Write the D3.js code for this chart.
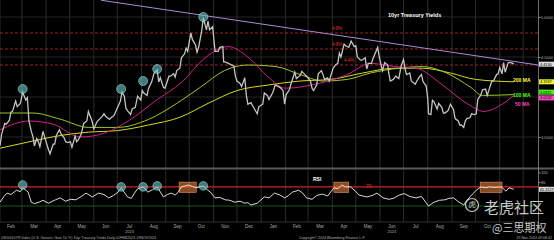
<!DOCTYPE html>
<html lang="en">
<head>
    <meta charset="UTF-8">
    <title>10yr Treasury Yields</title>
    <script src="https://d3js.org/d3.v7.min.js"></script>
    <style>
        body {margin: 0; background: #000;}
        svg {display: block; background: #000;}
        text {font-family: "Liberation Sans", Arial, sans-serif;}
    </style>
</head>
<body>
<script>
    const width = 554;
    const height = 240;

    // USGG10YR daily close
    const prices = [
        ["2023-02-01",3.39],["2023-02-03",3.53],["2023-02-07",3.67],["2023-02-09",3.66],["2023-02-13",3.71],["2023-02-15",3.81],
        ["2023-02-17",3.82],["2023-02-21",3.95],["2023-02-23",3.88],["2023-02-27",3.92],["2023-03-02",4.06],["2023-03-06",3.96],
        ["2023-03-08",3.99],["2023-03-10",3.70],["2023-03-13",3.57],["2023-03-15",3.51],["2023-03-17",3.39],["2023-03-20",3.48],
        ["2023-03-22",3.44],["2023-03-24",3.38],["2023-03-28",3.57],["2023-03-31",3.47],["2023-04-04",3.34],["2023-04-06",3.29],
        ["2023-04-10",3.41],["2023-04-12",3.41],["2023-04-14",3.52],["2023-04-18",3.59],["2023-04-20",3.54],["2023-04-24",3.49],
        ["2023-04-26",3.44],["2023-04-28",3.43],["2023-05-02",3.44],["2023-05-04",3.37],["2023-05-08",3.51],["2023-05-10",3.44],
        ["2023-05-12",3.46],["2023-05-16",3.54],["2023-05-19",3.67],["2023-05-23",3.70],["2023-05-25",3.82],["2023-05-30",3.69],
        ["2023-06-01",3.60],["2023-06-05",3.69],["2023-06-08",3.72],["2023-06-12",3.76],["2023-06-14",3.79],["2023-06-16",3.76],
        ["2023-06-21",3.72],["2023-06-23",3.74],["2023-06-27",3.77],["2023-06-30",3.84],["2023-07-05",3.95],["2023-07-07",4.06],
        ["2023-07-10",4.01],["2023-07-12",3.86],["2023-07-14",3.83],["2023-07-18",3.78],["2023-07-20",3.85],["2023-07-24",3.87],
        ["2023-07-27",4.01],["2023-07-31",3.96],["2023-08-02",4.08],["2023-08-04",4.05],["2023-08-08",4.02],["2023-08-10",4.11],
        ["2023-08-14",4.19],["2023-08-17",4.30],["2023-08-21",4.34],["2023-08-23",4.19],["2023-08-25",4.24],["2023-08-29",4.12],
        ["2023-08-31",4.11],["2023-09-05",4.26],["2023-09-07",4.26],["2023-09-11",4.29],["2023-09-13",4.25],["2023-09-15",4.33],
        ["2023-09-19",4.36],["2023-09-21",4.49],["2023-09-25",4.54],["2023-09-27",4.61],["2023-09-29",4.57],["2023-10-03",4.80],
        ["2023-10-05",4.72],["2023-10-09",4.65],["2023-10-11",4.56],["2023-10-13",4.62],["2023-10-17",4.83],["2023-10-19",4.99],
        ["2023-10-23",4.84],["2023-10-25",4.95],["2023-10-27",4.84],["2023-10-31",4.88],["2023-11-02",4.67],["2023-11-03",4.57],
        ["2023-11-07",4.57],["2023-11-09",4.62],["2023-11-13",4.63],["2023-11-14",4.44],["2023-11-16",4.44],["2023-11-20",4.42],
        ["2023-11-22",4.41],["2023-11-27",4.39],["2023-11-29",4.26],["2023-12-01",4.20],["2023-12-05",4.17],["2023-12-07",4.13],
        ["2023-12-11",4.24],["2023-12-13",4.02],["2023-12-15",3.91],["2023-12-19",3.93],["2023-12-21",3.89],["2023-12-27",3.79],
        ["2023-12-29",3.88],["2024-01-03",3.91],["2024-01-05",4.05],["2024-01-09",4.02],["2024-01-11",3.97],["2024-01-16",4.06],
        ["2024-01-19",4.15],["2024-01-23",4.13],["2024-01-25",4.12],["2024-01-29",4.08],["2024-01-31",3.91],["2024-02-02",4.03],
        ["2024-02-06",4.09],["2024-02-08",4.16],["2024-02-13",4.31],["2024-02-15",4.23],["2024-02-20",4.27],["2024-02-22",4.32],
        ["2024-02-26",4.28],["2024-02-29",4.25],["2024-03-04",4.20],["2024-03-06",4.11],["2024-03-08",4.08],["2024-03-12",4.15],
        ["2024-03-14",4.29],["2024-03-18",4.33],["2024-03-20",4.28],["2024-03-22",4.22],["2024-03-26",4.24],["2024-03-28",4.20],
        ["2024-04-02",4.36],["2024-04-05",4.40],["2024-04-08",4.42],["2024-04-10",4.55],["2024-04-12",4.50],["2024-04-16",4.66],
        ["2024-04-18",4.64],["2024-04-22",4.62],["2024-04-25",4.70],["2024-04-29",4.63],["2024-05-01",4.64],["2024-05-03",4.50],
        ["2024-05-07",4.46],["2024-05-09",4.46],["2024-05-13",4.49],["2024-05-15",4.35],["2024-05-17",4.42],["2024-05-21",4.42],
        ["2024-05-23",4.48],["2024-05-29",4.62],["2024-05-31",4.50],["2024-06-04",4.33],["2024-06-07",4.43],["2024-06-11",4.40],
        ["2024-06-12",4.31],["2024-06-14",4.20],["2024-06-18",4.22],["2024-06-21",4.26],["2024-06-25",4.23],["2024-06-28",4.39],
        ["2024-07-01",4.47],["2024-07-03",4.35],["2024-07-05",4.28],["2024-07-09",4.30],["2024-07-11",4.20],["2024-07-16",4.16],
        ["2024-07-18",4.20],["2024-07-22",4.26],["2024-07-24",4.28],["2024-07-26",4.19],["2024-07-30",4.14],["2024-08-01",3.98],
        ["2024-08-02",3.79],["2024-08-05",3.78],["2024-08-07",3.96],["2024-08-09",3.94],["2024-08-13",3.85],["2024-08-15",3.92],
        ["2024-08-19",3.87],["2024-08-21",3.80],["2024-08-23",3.80],["2024-08-27",3.83],["2024-08-30",3.91],["2024-09-03",3.84],
        ["2024-09-05",3.73],["2024-09-09",3.70],["2024-09-11",3.65],["2024-09-13",3.65],["2024-09-16",3.62],["2024-09-18",3.70],
        ["2024-09-20",3.73],["2024-09-24",3.74],["2024-09-26",3.79],["2024-09-30",3.78],["2024-10-02",3.79],["2024-10-04",3.97],
        ["2024-10-08",4.03],["2024-10-10",4.09],["2024-10-14",4.10],["2024-10-16",4.02],["2024-10-18",4.08],["2024-10-22",4.20],
        ["2024-10-24",4.20],["2024-10-28",4.28],["2024-10-30",4.29],["2024-11-01",4.37],["2024-11-04",4.29],["2024-11-06",4.43],
        ["2024-11-08",4.31],["2024-11-12",4.43],["2024-11-14",4.43],["2024-11-15",4.43],["2024-11-18",4.42],["2024-11-19",4.41]
    ];

    const ma50 = [
        ["2023-02-01",3.59],["2023-03-10",3.70],["2023-04-10",3.66],["2023-05-15",3.50],["2023-06-15",3.55],["2023-07-15",3.70],
        ["2023-08-20",3.96],["2023-09-22",4.19],["2023-10-20",4.48],["2023-11-20",4.63],["2023-12-15",4.50],["2024-01-10",4.25],
        ["2024-02-01",4.11],["2024-03-15",4.17],["2024-04-20",4.28],["2024-05-20",4.42],["2024-06-20",4.38],["2024-07-17",4.36],
        ["2024-08-20",4.15],["2024-09-20",3.92],["2024-10-12",3.82],["2024-10-30",3.88],["2024-11-19",4.02]
    ];
    const ma100 = [
        ["2023-02-01",3.80],["2023-03-15",3.80],["2023-04-20",3.72],["2023-05-25",3.62],["2023-07-01",3.62],["2023-08-10",3.72],
        ["2023-09-15",3.92],["2023-10-15",4.12],["2023-11-15",4.33],["2023-12-15",4.40],["2024-01-20",4.38],["2024-02-20",4.28],
        ["2024-03-20",4.20],["2024-04-20",4.22],["2024-05-20",4.30],["2024-06-25",4.36],["2024-07-25",4.38],["2024-08-25",4.30],
        ["2024-09-25",4.12],["2024-10-10",4.02],["2024-11-19",4.03]
    ];
    const ma200 = [
        ["2023-02-01",3.36],["2023-03-15",3.45],["2023-04-20",3.52],["2023-05-25",3.56],["2023-07-01",3.58],["2023-08-10",3.65],
        ["2023-09-20",3.75],["2023-10-25",3.92],["2023-12-01",4.08],["2024-01-10",4.15],["2024-02-20",4.20],["2024-03-30",4.22],
        ["2024-05-10",4.30],["2024-06-20",4.36],["2024-07-25",4.36],["2024-08-30",4.30],["2024-10-01",4.22],["2024-11-19",4.19]
    ];

    const rsi = [
        ["2023-02-01",38],["2023-02-06",50],["2023-02-10",57],["2023-02-15",54],["2023-02-22",63],["2023-02-27",60],["2023-03-02",68],
        ["2023-03-07",62],["2023-03-09",59],["2023-03-13",38],["2023-03-17",35],["2023-03-23",38],["2023-03-28",42],["2023-04-04",36],
        ["2023-04-13",43],["2023-04-19",47],["2023-04-26",40],["2023-05-02",44],["2023-05-09",43],["2023-05-16",50],["2023-05-22",57],
        ["2023-05-30",49],["2023-06-07",57],["2023-06-14",54],["2023-06-20",47],["2023-06-26",52],["2023-07-02",59],["2023-07-06",68],
        ["2023-07-14",49],["2023-07-19",46],["2023-07-23",57],["2023-07-27",66],["2023-08-03",70],["2023-08-09",59],["2023-08-15",64],
        ["2023-08-21",70],["2023-08-29",49],["2023-09-03",54],["2023-09-08",57],["2023-09-13",53],["2023-09-17",59],["2023-09-21",70],
        ["2023-09-26",72],["2023-09-30",74],["2023-10-05",71],["2023-10-10",68],["2023-10-14",70],["2023-10-19",72],["2023-10-24",64],
        ["2023-10-28",59],["2023-11-03",47],["2023-11-09",48],["2023-11-16",43],["2023-11-22",42],["2023-11-28",38],["2023-12-05",40],
        ["2023-12-11",36],["2023-12-15",37],["2023-12-19",32],["2023-12-27",36],["2024-01-05",49],["2024-01-11",47],["2024-01-18",57],
        ["2024-01-25",53],["2024-01-31",47],["2024-02-05",52],["2024-02-10",59],["2024-02-18",63],["2024-02-23",57],["2024-02-28",47],
        ["2024-03-06",44],["2024-03-12",52],["2024-03-19",55],["2024-03-26",51],["2024-04-03",68],["2024-04-08",66],["2024-04-13",74],
        ["2024-04-18",70],["2024-04-24",70],["2024-04-30",62],["2024-05-05",53],["2024-05-10",51],["2024-05-15",49],["2024-05-22",52],
        ["2024-05-28",57],["2024-06-05",47],["2024-06-12",44],["2024-06-18",46],["2024-06-26",53],["2024-07-02",56],["2024-07-09",50],
        ["2024-07-17",47],["2024-07-24",50],["2024-08-02",30],["2024-08-09",38],["2024-08-16",42],["2024-08-23",43],["2024-08-28",46],
        ["2024-09-03",47],["2024-09-10",38],["2024-09-16",32],["2024-09-20",42],["2024-09-24",49],["2024-10-02",63],["2024-10-08",70],
        ["2024-10-14",68],["2024-10-19",70],["2024-10-26",69],["2024-11-03",70],["2024-11-09",61],["2024-11-13",68],["2024-11-19",65]
    ];

    const levels = [4.8, 4.6, 4.4];
    const levelLabels = ["4.8%", "4.6%", "4.4%"];
    const trend = [["2023-06-10", 5.21], ["2024-12-20", 4.40]];
    const peakDates = ["2023-03-02", "2023-07-06", "2023-08-03", "2023-08-21", "2023-10-19"];
    const peakValues = [4.10, 4.10, 4.20, 4.35, 5.00];
    const peakRsi = [74, 70, 70, 72, 72];
    const obZones = [["2023-09-18", "2023-10-10"], ["2024-04-03", "2024-04-22"], ["2024-10-07", "2024-11-04"]];
    const priceTicks = [3.5, 4.0, 4.5, 5.0];
    const rsiTicks = [80, 100];

    const parse = d3.timeParse("%Y-%m-%d");
    const toPts = arr => arr.map(d => ({date: parse(d[0]), value: d[1]}));

    const plotRight = 538;
    const mainBottom = 167;

    const svg = d3.select("body").append("svg")
            .attr("width", width).attr("height", height);

    const x = d3.scaleTime()
            .domain([parse("2023-02-01"), parse("2024-12-20")])
            .range([0, plotRight]);
    const y = d3.scaleLinear().domain([3.125, 5.2125]).range([mainBottom, 0]);
    const yR = d3.scaleLinear().domain([0, 100]).range([220.4, 172.5]);

    svg.append("clipPath").attr("id", "clipMain")
        .append("rect").attr("x", 0).attr("y", 0).attr("width", plotRight).attr("height", mainBottom);

    // grid
    const months = d3.timeMonth.range(parse("2023-02-01"), parse("2024-12-02"));
    svg.append("g").selectAll("line").data(months).enter().append("line")
            .attr("x1", d => x(d)).attr("x2", d => x(d))
            .attr("y1", 0).attr("y2", 222)
            .style("stroke", "#353535").style("stroke-width", 0.8);

    svg.append("g").selectAll("line").data(priceTicks).enter().append("line")
            .attr("x1", 0).attr("x2", plotRight)
            .attr("y1", d => y(d)).attr("y2", d => y(d))
            .style("stroke", "#2e2e2e").style("stroke-width", 0.8);

    // panel separators
    svg.append("line").attr("x1", 0).attr("x2", width).attr("y1", 168.5).attr("y2", 168.5)
            .style("stroke", "#5a5a5a").style("stroke-width", 2);
    svg.append("line").attr("x1", 0).attr("x2", plotRight).attr("y1", 222).attr("y2", 222)
            .style("stroke", "#3a3a3a").style("stroke-width", 0.8);
    svg.append("line").attr("x1", plotRight + 0.5).attr("x2", plotRight + 0.5).attr("y1", 0).attr("y2", 223)
            .style("stroke", "#8a8a8a").style("stroke-width", 0.8);

    const main = svg.append("g").attr("clip-path", "url(#clipMain)");

    // red levels
    main.selectAll("line.level").data(levels).enter().append("line")
            .attr("class", "level")
            .attr("x1", 0).attr("x2", plotRight)
            .attr("y1", d => y(d)).attr("y2", d => y(d))
            .style("stroke", "#c42a2a").style("stroke-width", 0.8)
            .style("stroke-dasharray", "3,2");
    main.selectAll("text.level").data(levels).enter().append("text")
            .attr("x", (d, i) => i < 2 ? 332 : 344)
            .attr("y", d => y(d) - 3)
            .text((d, i) => levelLabels[i])
            .style("fill", "#e03030").style("font-size", "4.5px");

    const line = d3.line().x(d => x(d.date)).y(d => y(d.value));
    const smooth = d3.line().x(d => x(d.date)).y(d => y(d.value)).curve(d3.curveMonotoneX);

    main.append("path").datum(toPts(ma200)).attr("d", smooth)
            .style("fill", "none").style("stroke", "#d8d820").style("stroke-width", 1);
    main.append("path").datum(toPts(ma100)).attr("d", smooth)
            .style("fill", "none").style("stroke", "#9cc828").style("stroke-width", 1);
    main.append("path").datum(toPts(ma50)).attr("d", smooth)
            .style("fill", "none").style("stroke", "#d0208c").style("stroke-width", 1);

    main.append("path").datum(toPts(prices)).attr("d", line)
            .style("fill", "none").style("stroke", "#c4c4c4").style("stroke-width", 1.3);

    main.append("path").datum(toPts(trend)).attr("d", line)
            .style("fill", "none").style("stroke", "#a88ad8").style("stroke-width", 1);

    main.selectAll("circle").data(peakDates).enter().append("circle")
            .attr("cx", d => x(parse(d))).attr("cy", (d, i) => y(peakValues[i])).attr("r", 4.5)
            .style("fill", "rgba(110,200,200,0.6)").style("stroke", "#8fe3e3").style("stroke-width", 0.6);

    svg.append("text").attr("x", 388).attr("y", 17).text("10yr Treasury Yields")
            .style("fill", "#fff").style("font-size", "5.5px").style("font-weight", "bold");

    // MA legend
    const maLegend = [["200 MA", "#ffff30", 82], ["100 MA", "#4cff1a", 97], ["50 MA", "#ff3fbf", 106]];
    svg.selectAll("text.ma").data(maLegend).enter().append("text")
            .attr("class", "ma")
            .attr("x", d => d[0] === "50 MA" ? 515 : 513).attr("y", d => d[2])
            .text(d => d[0])
            .style("fill", d => d[1]).style("font-size", "5px").style("font-weight", "bold");

    // right axis (4.0000 sits under the MA value boxes)
    const axisR = svg.append("g").attr("transform", `translate(${plotRight + 0.5},0)`)
            .call(d3.axisRight(y).tickValues(priceTicks)
                .tickFormat(d => d === 4.0 ? "" : d3.format(".4f")(d)).tickSize(2));
    axisR.select(".domain").remove();
    axisR.selectAll("line").style("stroke", "#9a9a9a");
    axisR.selectAll("text").style("fill", "#b0b0b0").style("font-size", "4px").attr("x", 2.5);

    const rsiAxis = svg.append("g").attr("transform", `translate(${plotRight + 0.5},0)`)
            .call(d3.axisRight(yR).tickValues(rsiTicks).tickSize(2));
    rsiAxis.select(".domain").remove();
    rsiAxis.selectAll("line").style("stroke", "#9a9a9a");
    rsiAxis.selectAll("text").style("fill", "#b0b0b0").style("font-size", "4px").attr("x", 2.5);

    // last value boxes
    const boxes = [
        {y: y(prices[prices.length - 1][1]), bg: "#dcdcdc", t: "4.4130"},
        {y: y(ma200[ma200.length - 1][1]), bg: "#f2f230", t: "4.1937"},
        {y: y(ma100[ma100.length - 1][1]) - 2.5, bg: "#46f01e", t: "4.0311"},
        {y: y(ma50[ma50.length - 1][1]) + 2.5, bg: "#ff44c4", t: "4.0242"},
        {y: yR(rsi[rsi.length - 1][1]), bg: "#d8d8d8", t: "65.3127"}
    ];
    const bx = svg.selectAll("g.box").data(boxes).enter().append("g")
            .attr("class", "box").attr("transform", d => `translate(${plotRight + 1},${d.y - 2.5})`);
    bx.append("rect").attr("width", 15).attr("height", 5).style("fill", d => d.bg);
    bx.append("text").attr("x", 1).attr("y", 4).text(d => d.t)
            .style("fill", "#000").style("font-size", "3.8px");

    // RSI panel
    svg.append("line").attr("x1", 0).attr("x2", plotRight).attr("y1", yR(70)).attr("y2", yR(70))
            .style("stroke", "#d42020").style("stroke-width", 1.2);
    svg.append("line").attr("x1", 0).attr("x2", plotRight).attr("y1", yR(30)).attr("y2", yR(30))
            .style("stroke", "#1f6a1f").style("stroke-width", 0.8);

    svg.selectAll("rect.ob").data(obZones).enter().append("rect")
            .attr("class", "ob")
            .attr("x", d => x(parse(d[0]))).attr("width", d => x(parse(d[1])) - x(parse(d[0])))
            .attr("y", yR(80)).attr("height", yR(58) - yR(80))
            .style("fill", "rgba(224,128,60,0.6)").style("stroke", "#f0a070").style("stroke-width", 0.5);

    const rsiLine = d3.line().x(d => x(d.date)).y(d => yR(d.value));
    svg.append("path").datum(toPts(rsi)).attr("d", rsiLine)
            .style("fill", "none").style("stroke", "#f0f0f0").style("stroke-width", 0.9);

    svg.selectAll("circle.rsi").data(peakDates).enter().append("circle")
            .attr("class", "rsi")
            .attr("cx", d => x(parse(d))).attr("cy", (d, i) => yR(peakRsi[i])).attr("r", 4.3)
            .style("fill", "rgba(110,200,200,0.6)").style("stroke", "#8fe3e3").style("stroke-width", 0.6);

    svg.append("text").attr("x", 313).attr("y", 181).text("RSI")
            .style("fill", "#fff").style("font-size", "5px").style("font-weight", "bold");
    svg.append("text").attr("x", 366).attr("y", yR(70) + 1).text("70")
            .style("fill", "#e03030").style("font-size", "5px");

    // x axis labels (the last months sit under the watermark)
    const monthFmt = d3.timeFormat("%b");
    const labelMonths = months.filter(d => d < parse("2024-11-01"));
    svg.append("g").selectAll("text").data(labelMonths).enter().append("text")
            .attr("x", d => (x(d) + x(d3.timeMonth.offset(d, 1))) / 2)
            .attr("y", 228)
            .attr("text-anchor", "middle")
            .text(monthFmt)
            .style("fill", "#a8a8a8").style("font-size", "4.5px");
    const years = [["2023", "2023-07-01"], ["2024", "2024-06-01"]];
    svg.append("g").selectAll("text").data(years).enter().append("text")
            .attr("x", d => { const m = parse(d[1]); return (x(m) + x(d3.timeMonth.offset(m, 1))) / 2; })
            .attr("y", 232.5)
            .attr("text-anchor", "middle")
            .text(d => d[0])
            .style("fill", "#a8a8a8").style("font-size", "4px");

    // footer
    svg.append("text").attr("x", 1).attr("y", 238.5)
            .text("USGG10YR Index (U.S. Generic Govt 10 Yr) 10yr Treasury Yields   Daily 01FEB2023-19NOV2024")
            .style("fill", "#b0b0b0").style("font-size", "3.6px");
    svg.append("text").attr("x", 299).attr("y", 238.5)
            .text("Copyright© 2024 Bloomberg Finance L.P.")
            .style("fill", "#b0b0b0").style("font-size", "3.6px");
    svg.append("text").attr("x", 552).attr("y", 238.5).attr("text-anchor", "end")
            .text("19-Nov-2024 09:08:42")
            .style("fill", "#b0b0b0").style("font-size", "3.6px");

    // watermark
    const wm = svg.append("g").style("opacity", 0.85);
    wm.append("circle").attr("cx", 472).attr("cy", 205).attr("r", 6.5)
            .style("fill", "none").style("stroke", "#e8e8e8").style("stroke-width", 1.2);
    wm.append("text").attr("x", 472).attr("y", 207).attr("text-anchor", "middle").text("虎")
            .style("fill", "#e8e8e8").style("font-size", "7px").style("font-family", "Noto Sans CJK SC");
    wm.append("text").attr("x", 484).attr("y", 213).text("老虎社区")
            .style("fill", "#eaeaea").style("font-size", "15px").style("font-family", "Noto Sans CJK SC");
    wm.append("text").attr("x", 492).attr("y", 232).text("@三思期权")
            .style("fill", "#eaeaea").style("font-size", "11px").style("font-family", "Noto Sans CJK SC");
</script>
</body>
</html>
